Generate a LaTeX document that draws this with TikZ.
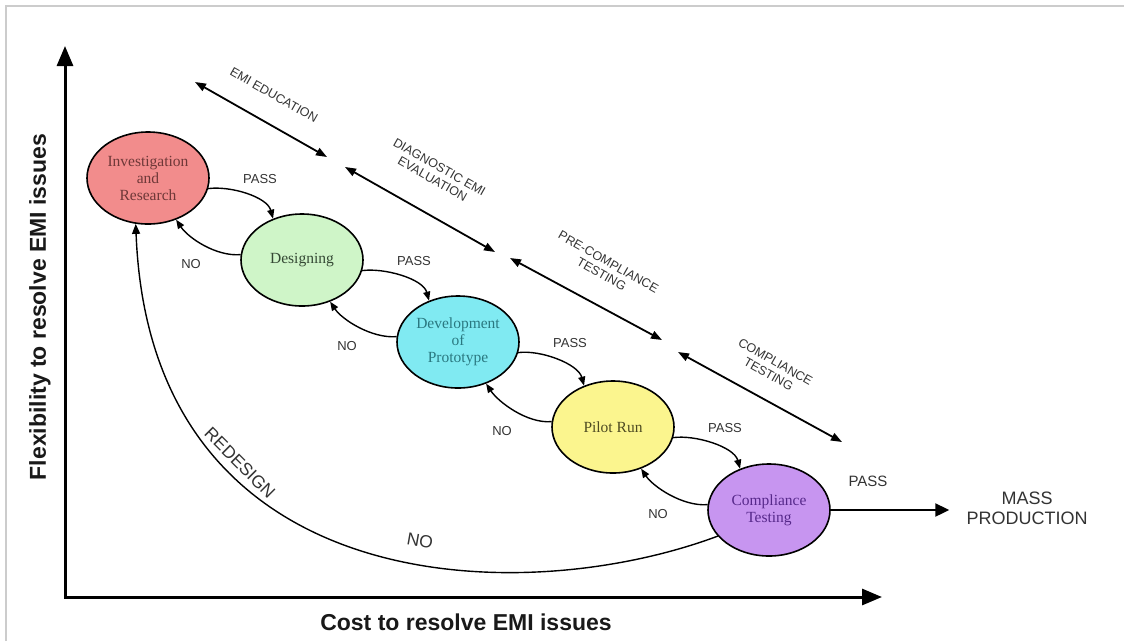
\documentclass[tikz,border=0pt]{standalone}
\usepackage{fontspec}
\setmainfont{Liberation Serif}
\setsansfont{Liberation Sans}
\usetikzlibrary{arrows.meta,calc,shapes.geometric}
\definecolor{fillI}{HTML}{F28C8C}
\definecolor{fillD}{HTML}{CFF5C8}
\definecolor{fillV}{HTML}{80EAF2}
\definecolor{fillP}{HTML}{FBF58E}
\definecolor{fillC}{HTML}{C795F0}
\definecolor{txtI}{HTML}{6E3838}
\definecolor{txtD}{HTML}{344834}
\definecolor{txtV}{HTML}{2A7880}
\definecolor{txtP}{HTML}{4D4A22}
\definecolor{txtC}{HTML}{56288A}
\definecolor{labelgray}{HTML}{333333}
\definecolor{framegray}{HTML}{CCCCCC}
\begin{document}
\begin{tikzpicture}[x=1pt,y=-1pt,
  stage/.style={ellipse, draw=black, line width=1.6pt, minimum width=122pt, minimum height=92pt, inner sep=0pt, align=center, font=\fontsize{15.5}{17}\selectfont},
  lbl/.style={font=\sffamily\fontsize{13}{15}\selectfont, text=labelgray, inner sep=0pt},
  phase/.style={font=\sffamily\fontsize{12.5}{14}\selectfont, text=labelgray, rotate=-29.5, align=center, inner sep=0pt},
  bigl/.style={font=\sffamily\fontsize{17.5}{20}\selectfont, text=labelgray, inner sep=0pt},
  axlbl/.style={font=\sffamily\bfseries\fontsize{23}{26}\selectfont, text=black!90, inner sep=0pt},
  loopar/.style={line width=1.4pt, -{Triangle[length=9pt,width=7pt]}},
  spanar/.style={line width=1.8pt, {Triangle[length=11pt,width=8pt]}-{Triangle[length=11pt,width=8pt]}},
  axisar/.style={line width=3pt, line join=miter, {Triangle[length=20pt,width=16pt]}-{Triangle[length=20pt,width=16pt]}},
]
\useasboundingbox (0,0) rectangle (1124,641);
\fill[white] (0,0) rectangle (1124,641);
\draw[framegray, line width=1.2pt] (6,641) -- (6,6) -- (1124,6);

% axes
\coordinate (ytip) at (65,46);
\coordinate (O) at (65,597);
\coordinate (xtip) at (882,597);
\draw[axisar] (ytip) -- (O) -- (xtip);
\node[axlbl, rotate=90] (ylab) at (40,307) {Flexibility to resolve EMI issues};
\node[axlbl] (xlab) at (466,622) {Cost to resolve EMI issues};

% stages
\node[stage, fill=fillI, text=txtI] (I) at (148,178) {Investigation\\and\\Research};
\node[stage, fill=fillD, text=txtD] (D) at (302,260) {Designing};
\node[stage, fill=fillV, text=txtV] (V) at (458,342) {Development\\of\\Prototype};
\node[stage, fill=fillP, text=txtP] (P) at (613,427) {Pilot Run};
\node[stage, fill=fillC, text=txtC] (C) at (769,510) {Compliance\\Testing};

% PASS / NO loop arrows
\foreach \a/\b in {I/D, D/V, V/P, P/C}{
  \draw[loopar] (\a.-10) .. controls +(22,-3) and +(-6,-22) .. (\b.125);
  \draw[loopar] (\b.175) .. controls +(-25,2) and +(12,18) .. (\a.-56);
}
\node[lbl] (p1) at (260,179) {PASS};
\node[lbl] (p2) at (414,261) {PASS};
\node[lbl] (p3) at (570,343) {PASS};
\node[lbl] (p4) at (725,428) {PASS};
\node[lbl] (n1) at (191,264) {NO};
\node[lbl] (n2) at (347,346) {NO};
\node[lbl] (n3) at (502,431) {NO};
\node[lbl] (n4) at (658,514) {NO};

% redesign arc
\draw[line width=1.4pt, -{Triangle[length=10pt,width=8pt]}] (C.207) .. controls (520,610) and (150,600) .. (I.255);
\node[bigl, rotate=-45] (redesign) at (240,463) {REDESIGN};
\node[bigl, rotate=-10] (bigno) at (420,541) {NO};

% mass production
\node[font=\sffamily\fontsize{18}{20}\selectfont, text=labelgray, align=center, inner sep=0pt] (MP) at (1027,508) {MASS\\PRODUCTION};
\draw[line width=2pt, -{Triangle[length=14pt,width=13pt]}] (C.east) -- ([xshift=-17pt]MP.west |- C.east);
\node[font=\sffamily\fontsize{15}{17}\selectfont, text=labelgray, inner sep=0pt] (pf) at (868,481) {PASS};

% phase spans
\coordinate (a1) at (195,82);  \coordinate (b1) at (327,157);
\coordinate (a2) at (345,167); \coordinate (b2) at (495,252);
\coordinate (a3) at (510,258); \coordinate (b3) at (662,340);
\coordinate (a4) at (678,352); \coordinate (b4) at (842,442);
\draw[spanar] (a1) -- (b1);
\draw[spanar] (a2) -- (b2);
\draw[spanar] (a3) -- (b3);
\draw[spanar] (a4) -- (b4);
\node[phase] (t1) at (274,95) {EMI EDUCATION};
\node[phase] (t2) at (436,173) {DIAGNOSTIC EMI\\EVALUATION};
\node[phase] (t3) at (605,268) {PRE-COMPLIANCE\\TESTING};
\node[phase] (t4) at (772,368) {COMPLIANCE\\TESTING};
\end{tikzpicture}
\end{document}
